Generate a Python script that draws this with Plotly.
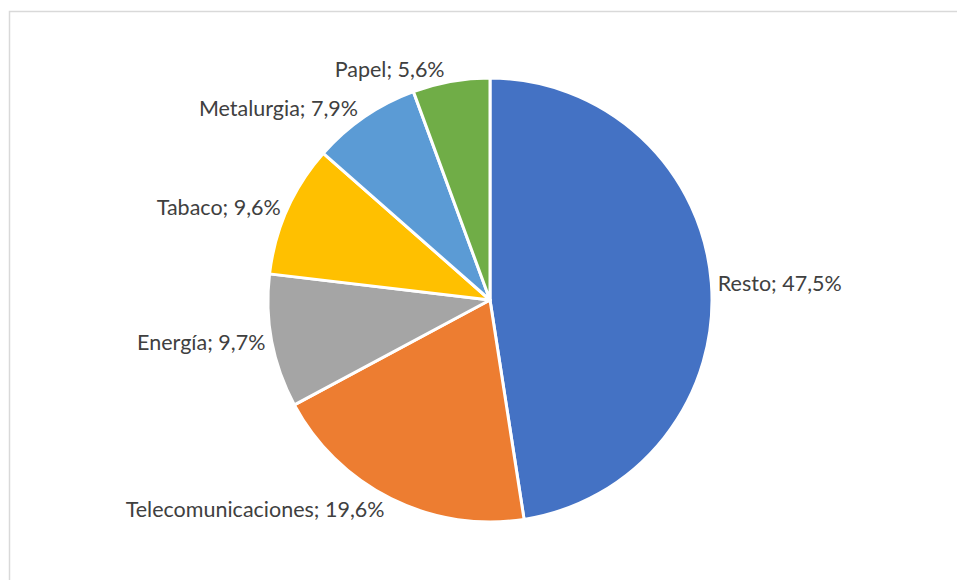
import plotly.graph_objects as go

sectores = ["Resto", "Telecomunicaciones", "Energía", "Tabaco", "Metalurgia", "Papel"]
porcentajes = [47.5, 19.6, 9.7, 9.6, 7.9, 5.6]
colores = ["#4472C4", "#ED7D31", "#A5A5A5", "#FFC000", "#5B9BD5", "#70AD47"]

W, H = 957, 580

fig = go.Figure(go.Pie(
    labels=sectores,
    values=porcentajes,
    sort=False,
    direction="clockwise",
    rotation=0,
    marker=dict(colors=colores, line=dict(color="white", width=3)),
    textposition="outside",
    texttemplate="%{label}; %{value:.1f}%",
    textfont=dict(family="Lato", size=21.5, color="#404040"),
    hoverinfo="label+value",
    showlegend=False,
    domain=dict(x=[268 / W, 712 / W], y=[(H - 522) / H, (H - 78) / H]),
))

fig.update_layout(
    width=W, height=H,
    margin=dict(l=0, r=0, t=0, b=0),
    paper_bgcolor="white",
    separators=",.",
    shapes=[dict(type="rect", xref="paper", yref="paper",
                 x0=9.5 / W, x1=1.2, y0=-0.2, y1=(H - 11.5) / H,
                 line=dict(color="#D9D9D9", width=1.5), layer="below")],
)

fig.write_html("out.html")
